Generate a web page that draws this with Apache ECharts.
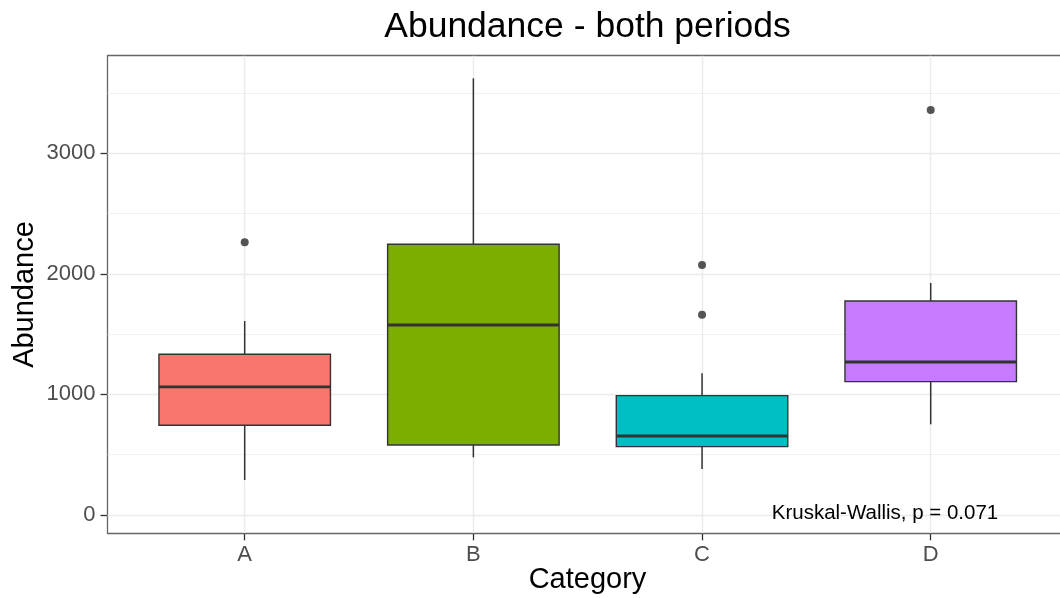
<!DOCTYPE html>
<html>
<head>
<meta charset="utf-8">
<script src="https://cdn.jsdelivr.net/npm/echarts@6/dist/echarts.min.js"></script>
<style>
html,body{margin:0;padding:0;background:#fff;}
#chart{width:1060px;height:598px;}
</style>
</head>
<body>
<div id="chart"></div>
<script>
// ---- data ----
var categories = ['A', 'B', 'C', 'D'];
var whiskerLow  = [290, 478, 382, 752];
var q1Values    = [744, 581, 567, 1106];
var medianVals  = [1062, 1576, 655, 1269];
var q3Values    = [1333, 2245, 990, 1775];
var whiskerHigh = [1609, 3622, 1175, 1924];
var outliers = [['A', 2262], ['C', 1661], ['C', 2073], ['D', 3359]];
var yTicks = [0, 1000, 2000, 3000];
var yMinorTicks = [500, 1500, 2500, 3500];
var fillColors = ['#F8766D', '#7CAE00', '#00BFC4', '#C77CFF'];
var titleText = 'Abundance - both periods';
var xTitle = 'Category';
var yTitle = 'Abundance';
var noteText = 'Kruskal-Wallis, p = 0.071';

// ---- build ----
var FONT = 'Liberation Sans, Arial, sans-serif';
var xPos = categories.map(function (c, i) { return i + 1; });
var boxData = categories.map(function (c, i) {
  return [xPos[i], whiskerLow[i], q1Values[i], medianVals[i], q3Values[i], whiskerHigh[i]];
});
var outlierData = outliers.map(function (o) {
  return [categories.indexOf(o[0]) + 1, o[1]];
});
var gridMarks = []
  .concat(yMinorTicks.map(function (v) { return { yAxis: v, lineStyle: { width: 0.7, color: '#ebebeb' } }; }))
  .concat(yTicks.map(function (v) { return { yAxis: v, lineStyle: { width: 1.4, color: '#ebebeb' } }; }))
  .concat(xPos.map(function (v) { return { xAxis: v, lineStyle: { width: 1.4, color: '#ebebeb' } }; }));

var BORDER = '#666666';
var chart = echarts.init(document.getElementById('chart'), null, { renderer: 'canvas' });
var option = {
  animation: false,
  backgroundColor: '#ffffff',
  grid: {
    left: 107.5, top: 55.7, right: 0, height: 477.6,
    show: false, containLabel: false
  },
  xAxis: [{
    type: 'value', min: 0.4, max: 4.5654, position: 'bottom',
    axisLine: { show: true, onZero: false, lineStyle: { color: BORDER, width: 1.3 } },
    axisTick: { show: true, customValues: xPos, length: 7, lineStyle: { color: '#333333', width: 1.3 } },
    axisLabel: {
      customValues: xPos, margin: 11, color: '#4d4d4d', fontSize: 22, fontFamily: FONT,
      formatter: function (v) { return categories[Math.round(v) - 1] || ''; }
    },
    splitLine: { show: false }
  }, {
    type: 'value', min: 0.4, max: 4.5654, position: 'top',
    axisLine: { show: true, onZero: false, lineStyle: { color: BORDER, width: 1.3 } },
    axisTick: { show: false }, axisLabel: { show: false }, splitLine: { show: false }
  }],
  yAxis: {
    type: 'value', min: -151.8, max: 3809.4,
    axisLine: { show: true, onZero: false, lineStyle: { color: BORDER, width: 1.3 } },
    axisTick: { show: true, customValues: yTicks, length: 7, lineStyle: { color: '#333333', width: 1.3 } },
    axisLabel: {
      customValues: yTicks, margin: 12, color: '#4d4d4d', fontSize: 22, fontFamily: FONT,
      formatter: function (v) { return String(v); }
    },
    splitLine: { show: false }
  },
  series: [
    {
      type: 'line', data: [], z: 1, silent: true,
      markLine: {
        z: 1, zlevel: 0, silent: true, symbol: ['none', 'none'], label: { show: false },
        animation: false, lineStyle: { type: 'solid' },
        data: gridMarks
      }
    },
    {
      type: 'custom', z: 3,
      data: boxData,
      encode: { x: 0, y: [1, 2, 3, 4, 5] },
      renderItem: function (params, api) {
        var x = api.value(0);
        var low = api.coord([x, api.value(1)]);
        var q1 = api.coord([x, api.value(2)]);
        var med = api.coord([x, api.value(3)]);
        var q3 = api.coord([x, api.value(4)]);
        var high = api.coord([x, api.value(5)]);
        var hw = api.size([0.75, 0])[0] / 2;
        var stroke = '#333333';
        return {
          type: 'group',
          children: [
            { type: 'line', shape: { x1: low[0], y1: low[1], x2: q1[0], y2: q1[1] }, style: { stroke: stroke, lineWidth: 1.5 } },
            { type: 'line', shape: { x1: q3[0], y1: q3[1], x2: high[0], y2: high[1] }, style: { stroke: stroke, lineWidth: 1.5 } },
            { type: 'rect', shape: { x: q3[0] - hw, y: q3[1], width: 2 * hw, height: q1[1] - q3[1] },
              style: { fill: fillColors[params.dataIndex], stroke: stroke, lineWidth: 1.4 } },
            { type: 'line', shape: { x1: med[0] - hw, y1: med[1], x2: med[0] + hw, y2: med[1] }, style: { stroke: stroke, lineWidth: 2.8 } }
          ]
        };
      }
    },
    {
      type: 'scatter', z: 4,
      data: outlierData,
      symbol: 'circle', symbolSize: 8,
      itemStyle: { color: '#2b2b2b' }
    }
  ],
  graphic: [
    { type: 'text', x: 587.5, y: 27, z: 10, style: { text: titleText, font: '35.5px ' + FONT, fill: '#000', align: 'center', verticalAlign: 'middle' } },
    { type: 'text', x: 587.5, y: 580, z: 10, style: { text: xTitle, font: '29px ' + FONT, fill: '#000', align: 'center', verticalAlign: 'middle' } },
    { type: 'text', x: 25, y: 294.5, z: 10, rotation: Math.PI / 2, style: { text: yTitle, font: '29px ' + FONT, fill: '#000', align: 'center', verticalAlign: 'middle' } },
    { type: 'text', x: 885, y: 513.5, z: 10, style: { text: noteText, font: '20.5px ' + FONT, fill: '#000', align: 'center', verticalAlign: 'middle' } }
  ]
};
chart.setOption(option);
</script>
</body>
</html>
